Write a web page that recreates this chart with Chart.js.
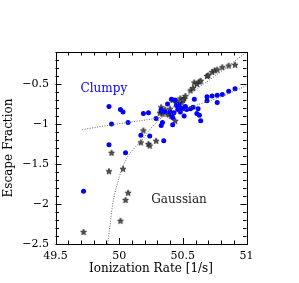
<!DOCTYPE html>
<html>
<head>
<meta charset="utf-8">
<script src="https://cdn.jsdelivr.net/npm/chart.js@4/dist/chart.umd.min.js"></script>
<style>
html,body{margin:0;padding:0;background:#fff;}
#c{display:block;}
</style>
</head>
<body>
<canvas id="c" width="299" height="283"></canvas>
<script>
// ---- data ----
const clumpyX = [49.92,50.01,50.03,49.94,50.07,50.19,50.23,50.29,49.92,50.05,50.17,50.24,50.35,49.72,50.33,50.34,50.42,50.33,50.33,50.38,50.41,50.44,50.45,50.49,50.50,50.52,50.53,50.56,50.58,50.59,50.61,50.62,50.63,50.64,50.51,50.48,50.43,50.40,50.42,50.41,50.36,50.69,50.73,50.77,50.81,50.86,50.91,50.69,50.77,50.47,50.46];
const clumpyY = [-0.78,-0.82,-0.85,-1.00,-0.98,-0.87,-0.86,-0.93,-1.26,-1.36,-1.14,-1.15,-1.21,-1.84,-1.02,-0.98,-1.01,-0.84,-0.82,-0.75,-0.69,-0.70,-0.77,-0.80,-0.81,-0.78,-0.82,-0.81,-0.79,-0.69,-0.87,-0.81,-0.89,-0.96,-0.90,-0.85,-0.86,-0.85,-0.92,-0.88,-0.85,-0.66,-0.65,-0.64,-0.63,-0.59,-0.56,-0.71,-0.73,-0.76,-0.82];
const gaussX = [49.72,50.01,49.92,49.94,50.03,50.05,50.07,50.17,50.19,50.23,50.24,50.29,50.33,50.34,50.36,50.39,50.41,50.42,50.44,50.45,50.48,50.49,50.51,50.52,50.56,50.58,50.59,50.61,50.63,50.64,50.69,50.70,50.73,50.75,50.77,50.81,50.86,50.91,50.40,50.45,50.50,50.32,50.38];
const gaussY = [-2.35,-2.21,-1.59,-1.36,-1.56,-1.95,-1.86,-1.23,-1.08,-1.25,-1.27,-1.21,-0.79,-0.87,-0.82,-0.88,-0.90,-0.70,-0.96,-0.74,-0.68,-0.73,-0.68,-0.65,-0.58,-0.55,-0.48,-0.50,-0.47,-0.46,-0.40,-0.39,-0.35,-0.33,-0.32,-0.29,-0.27,-0.26,-0.81,-0.72,-0.70,-0.86,-0.87];
const clumpyFitX = [49.71,49.94,50.07,50.28,50.45,50.58,50.80,51.0];
const clumpyFitY = [-1.07,-1.01,-0.98,-0.93,-0.86,-0.78,-0.66,-0.52];
const gaussFitX = [49.91,49.93,49.95,49.98,50.02,50.07,50.12,50.18,50.24,50.30,50.50,50.77,51.0];
const gaussFitY = [-2.5,-2.24,-1.99,-1.78,-1.57,-1.40,-1.30,-1.20,-1.07,-0.97,-0.69,-0.38,-0.1];
const xTicks = [49.5,50,50.5,51];
const yTicks = [-2.5,-2,-1.5,-1,-0.5];
const xLabel = 'Ionization Rate [1/s]';
const yLabel = 'Escape Fraction';
const clumpyName = 'Clumpy';
const gaussName = 'Gaussian';

const pts = (xs, ys) => xs.map((x, i) => ({x: x, y: ys[i]}));

// small 5-pointed star marker
function makeStar() {
  const s = 8, c = document.createElement('canvas');
  c.width = s; c.height = s;
  const g = c.getContext('2d');
  g.beginPath();
  for (let i = 0; i < 10; i++) {
    const r = i % 2 === 0 ? 3.2 : 1.3;
    const a = -Math.PI / 2 + i * Math.PI / 5;
    const px = s / 2 + r * Math.cos(a), py = s / 2 + 0.3 + r * Math.sin(a);
    if (i === 0) g.moveTo(px, py); else g.lineTo(px, py);
  }
  g.closePath();
  g.fillStyle = '#555';
  g.fill();
  g.strokeStyle = '#1a1a1a';
  g.lineWidth = 0.7;
  g.stroke();
  return c;
}
const starImg = makeStar();

const FONT = "'DejaVu Serif', serif";

const framePlugin = {
  id: 'frame',
  afterDatasetsDraw(chart) {
    const {ctx, chartArea: a, scales: {x, y}} = chart;
    ctx.save();
    ctx.strokeStyle = '#000';
    ctx.lineWidth = 1;
    ctx.strokeRect(Math.round(a.left) + 0.5, Math.round(a.top) + 0.5, Math.round(a.right - a.left), Math.round(a.bottom - a.top));
    ctx.beginPath();
    for (let k = 0; k <= 15; k++) {
      const v = 49.5 + k * 0.1;
      const px = Math.round(x.getPixelForValue(v)) + 0.5;
      const L = (k % 5 === 0) ? 6 : 3.5;
      ctx.moveTo(px, a.bottom); ctx.lineTo(px, a.bottom - L);
      ctx.moveTo(px, a.top); ctx.lineTo(px, a.top + L);
    }
    for (let k = 0; k <= 24; k++) {
      const v = -2.5 + k * 0.1;
      const py = Math.round(y.getPixelForValue(v)) + 0.5;
      const L = (k % 5 === 0) ? 6 : 3.5;
      ctx.moveTo(a.left, py); ctx.lineTo(a.left + L, py);
      ctx.moveTo(a.right, py); ctx.lineTo(a.right - L, py);
    }
    ctx.stroke();
    ctx.font = "12px " + FONT;
    ctx.textAlign = 'center';
    ctx.textBaseline = 'middle';
    ctx.fillStyle = '#0000ff';
    ctx.fillText(clumpyName, x.getPixelForValue(49.88), y.getPixelForValue(-0.56));
    ctx.fillStyle = '#222';
    ctx.fillText(gaussName, x.getPixelForValue(50.47), y.getPixelForValue(-1.95));
    ctx.restore();
  }
};

new Chart(document.getElementById('c'), {
  type: 'scatter',
  data: {
    datasets: [
      {label: 'clumpy fit', type: 'line', data: pts(clumpyFitX, clumpyFitY), borderColor: '#666', borderWidth: 1, borderDash: [1, 1.5], pointRadius: 0, fill: false, cubicInterpolationMode: 'monotone'},
      {label: 'gauss fit', type: 'line', data: pts(gaussFitX, gaussFitY), borderColor: '#666', borderWidth: 1, borderDash: [1, 1.5], pointRadius: 0, fill: false, cubicInterpolationMode: 'monotone'},
      {label: clumpyName, data: pts(clumpyX, clumpyY), pointStyle: 'circle', pointRadius: 2.5, backgroundColor: '#0000ff', borderColor: '#0000ff', borderWidth: 0},
      {label: gaussName, data: pts(gaussX, gaussY), pointStyle: starImg, pointRadius: 3.5}
    ]
  },
  options: {
    responsive: false,
    animation: false,
    events: [],
    clip: true,
    layout: {padding: {top: 52, right: 52.5, left: 0, bottom: 0}},
    plugins: {legend: {display: false}, tooltip: {enabled: false}},
    scales: {
      x: {
        type: 'linear', min: 49.5, max: 51,
        grid: {display: false, drawTicks: false}, border: {display: false},
        afterBuildTicks: s => { s.ticks = xTicks.map(v => ({value: v})); },
        afterFit: s => { s.height = 39; },
        ticks: {font: {family: FONT, size: 11}, color: '#000', padding: 6, maxRotation: 0, autoSkip: false, callback: v => String(v)},
        title: {display: true, text: xLabel, font: {family: FONT, size: 12}, color: '#000', padding: {top: 0, bottom: 6.8}}
      },
      y: {
        type: 'linear', min: -2.5, max: -0.1,
        grid: {display: false, drawTicks: false}, border: {display: false},
        afterBuildTicks: s => { s.ticks = yTicks.map(v => ({value: v})); },
        afterFit: s => { s.width = 55.5; },
        ticks: {font: {family: FONT, size: 11}, color: '#000', padding: 6.5, autoSkip: false, callback: v => (v < 0 ? '\u2212' + String(Math.abs(v)) : String(v))},
        title: {display: true, text: yLabel, font: {family: FONT, size: 12}, color: '#000', padding: {top: 1.8, bottom: 0}}
      }
    }
  },
  plugins: [framePlugin]
});
</script>
</body>
</html>
